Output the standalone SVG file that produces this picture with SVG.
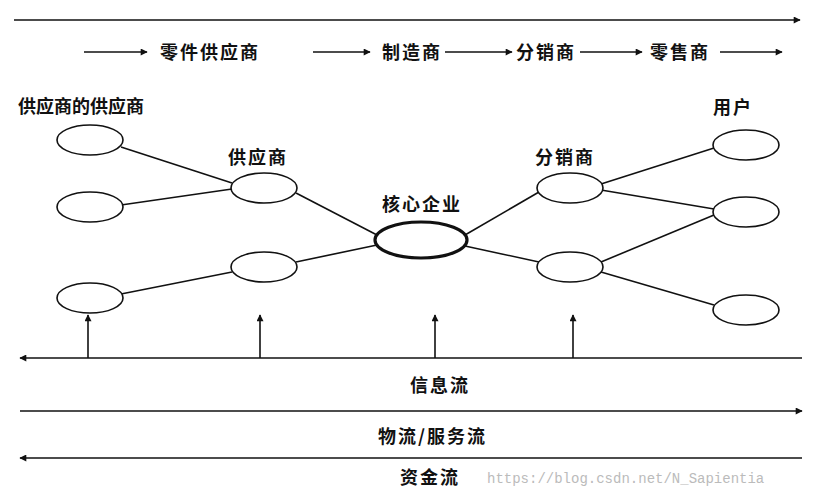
<svg xmlns="http://www.w3.org/2000/svg" width="827" height="497" viewBox="0 0 827 497">
<style>
.t{font-family:"Noto Sans CJK SC","Liberation Sans",sans-serif;font-size:18px;font-weight:bold;fill:#111;letter-spacing:2px}
.l{stroke:#111;stroke-width:1.6;fill:none}
.e{stroke:#111;stroke-width:1.6;fill:#fff}
.core{stroke-width:3.2}
</style>
<defs>
<marker id="a" viewBox="0 0 10 10" refX="9" refY="5" markerWidth="9" markerHeight="7" orient="auto" markerUnits="userSpaceOnUse"><path d="M0,0 L10,5 L0,10 Z" fill="#111"/></marker>
</defs>
<rect width="827" height="497" fill="#fff"/>
<g id="connectors">
<line class="l" x1="14" y1="20" x2="800" y2="20" marker-end="url(#a)"/>
<line class="l" x1="84" y1="52" x2="147" y2="52" marker-end="url(#a)"/>
<line class="l" x1="313" y1="52" x2="370" y2="52" marker-end="url(#a)"/>
<line class="l" x1="445" y1="52" x2="512" y2="52" marker-end="url(#a)"/>
<line class="l" x1="580" y1="52" x2="642" y2="52" marker-end="url(#a)"/>
<line class="l" x1="720" y1="52" x2="782" y2="52" marker-end="url(#a)"/>
<line class="l" x1="121" y1="147" x2="232" y2="183"/>
<line class="l" x1="121" y1="205" x2="232" y2="189"/>
<line class="l" x1="121" y1="294" x2="232" y2="272"/>
<line class="l" x1="296" y1="193" x2="377" y2="235"/>
<line class="l" x1="296" y1="262" x2="377" y2="245"/>
<line class="l" x1="465" y1="235" x2="539" y2="192"/>
<line class="l" x1="465" y1="246" x2="539" y2="262"/>
<line class="l" x1="601" y1="184" x2="714" y2="148"/>
<line class="l" x1="601" y1="190" x2="714" y2="209"/>
<line class="l" x1="601" y1="262" x2="714" y2="215"/>
<line class="l" x1="601" y1="272" x2="714" y2="305"/>
<line class="l" x1="88" y1="358" x2="88" y2="315" marker-end="url(#a)"/>
<line class="l" x1="260" y1="358" x2="260" y2="315" marker-end="url(#a)"/>
<line class="l" x1="435" y1="358" x2="435" y2="315" marker-end="url(#a)"/>
<line class="l" x1="573" y1="358" x2="573" y2="315" marker-end="url(#a)"/>
<line class="l" x1="802" y1="358" x2="20" y2="358" marker-end="url(#a)"/>
<line class="l" x1="20" y1="411" x2="802" y2="411" marker-end="url(#a)"/>
<line class="l" x1="802" y1="458" x2="20" y2="458" marker-end="url(#a)"/>
</g>
<g id="flow">
<text class="t" x="160" y="59">零件供应商</text>
<text class="t" x="382" y="59">制造商</text>
<text class="t" x="516" y="59">分销商</text>
<text class="t" x="650" y="59">零售商</text>
</g>
<g id="ss"><text class="t" x="18" y="113" style="letter-spacing:0">供应商的供应商</text>
<ellipse class="e" cx="90" cy="140" rx="33" ry="15"/>
<ellipse class="e" cx="90" cy="207" rx="33" ry="15"/>
<ellipse class="e" cx="90" cy="298" rx="33" ry="15"/></g>
<g id="s"><text class="t" x="228" y="164">供应商</text>
<ellipse class="e" cx="264" cy="188" rx="33" ry="15"/>
<ellipse class="e" cx="264" cy="267" rx="33" ry="15"/></g>
<g id="core"><text class="t" x="382" y="211">核心企业</text>
<ellipse class="e core" cx="421" cy="240" rx="46" ry="18"/></g>
<g id="d"><text class="t" x="535" y="164">分销商</text>
<ellipse class="e" cx="570" cy="188" rx="33" ry="15"/>
<ellipse class="e" cx="570" cy="267" rx="33" ry="15"/></g>
<g id="u"><text class="t" x="713" y="114">用户</text>
<ellipse class="e" cx="746" cy="145" rx="33" ry="15"/>
<ellipse class="e" cx="746" cy="212" rx="33" ry="15"/>
<ellipse class="e" cx="746" cy="310" rx="33" ry="15"/></g>
<g id="labels">
<text class="t" x="410" y="392">信息流</text>
<text class="t" x="378" y="443">物流/服务流</text>
<text class="t" x="400" y="484">资金流</text>
<text x="487" y="483" font-family="Liberation Mono,monospace" font-size="14" fill="#bbb">https://blog.csdn.net/N_Sapientia</text>
</g>
</svg>
